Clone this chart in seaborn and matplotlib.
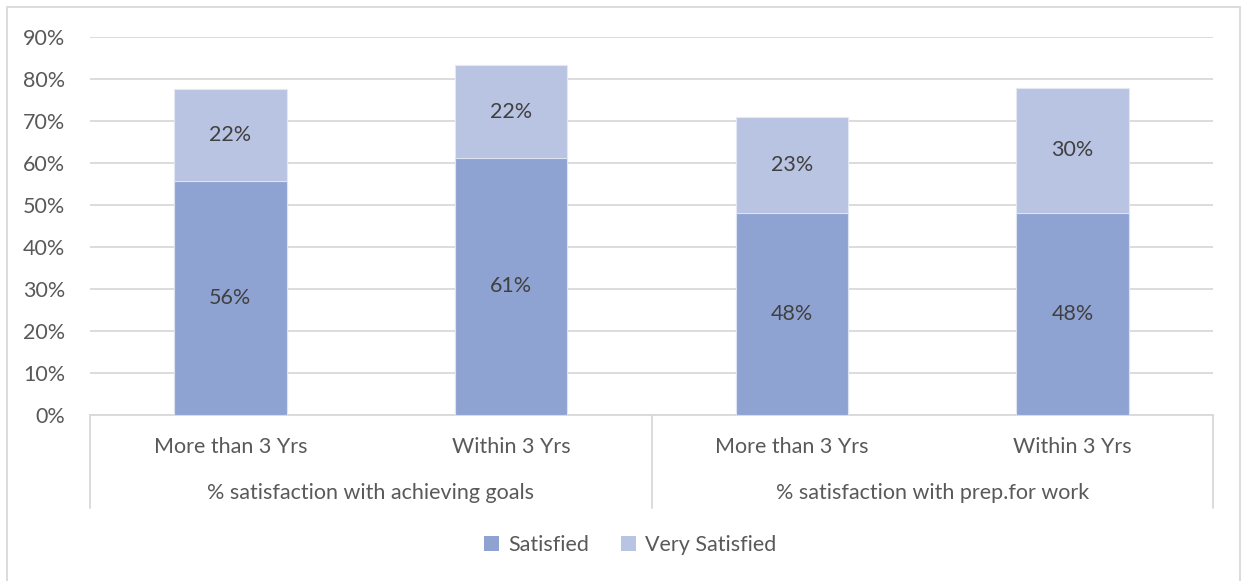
import matplotlib
matplotlib.use("Agg")
import matplotlib.pyplot as plt
from matplotlib.patches import Rectangle, Patch
from matplotlib.lines import Line2D
import seaborn as sns
import pandas as pd

# Survey results (percent of respondents)
periods = ["More than 3 Yrs", "Within 3 Yrs", "More than 3 Yrs", "Within 3 Yrs"]
groups = ["% satisfaction with achieving goals", "% satisfaction with prep.for work"]
satisfied = [55.7, 61.2, 48.1, 48.1]
very_satisfied = [21.9, 22.1, 22.9, 29.8]
y_ticks = [0, 10, 20, 30, 40, 50, 60, 70, 80, 90]

SAT_COLOR = "#8FA3D3"
VSAT_COLOR = "#B9C3E2"
TEXT_COLOR = "#595959"
LABEL_COLOR = "#404040"
GRID_COLOR = "#D9D9D9"
FS = 15.5

sns.set_theme(style="white")
plt.rcParams["font.family"] = ["Lato", "DejaVu Sans"]

W, H = 1244, 581
fig = plt.figure(figsize=(W / 100, H / 100), dpi=100)
ax = fig.add_axes([90 / W, 1 - 415 / H, (1213 - 90) / W, (415 - 37) / H])

slots = [f"c{i}" for i in range(len(periods))]
df = pd.DataFrame({
    "slot": slots,
    "satisfied": satisfied,
    "total": [s + v for s, v in zip(satisfied, very_satisfied)],
})

# Stacked bars: full height in the light colour, lower segment on top of it
sns.barplot(data=df, x="slot", y="total", order=slots, color=VSAT_COLOR,
            saturation=1, width=0.4, ax=ax, zorder=2, edgecolor="#E4E8F4", linewidth=0.8)
sns.barplot(data=df, x="slot", y="satisfied", order=slots, color=SAT_COLOR,
            saturation=1, width=0.4, ax=ax, zorder=3, edgecolor="#DDE3F1", linewidth=0.8)

for i, (s, v) in enumerate(zip(satisfied, very_satisfied)):
    ax.text(i, s / 2, f"{round(s)}%", ha="center", va="center",
            fontsize=FS, color=LABEL_COLOR, zorder=4)
    ax.text(i, s + v / 2, f"{round(v)}%", ha="center", va="center",
            fontsize=FS, color=LABEL_COLOR, zorder=4)

ax.set_xlim(-0.5, len(periods) - 0.5)
ax.set_ylim(0, 90)
ax.set_yticks(y_ticks)
ax.set_yticklabels([f"{t}%" for t in y_ticks], fontsize=FS, color=TEXT_COLOR)
ax.tick_params(axis="y", length=0, pad=18)
ax.yaxis.grid(True, color=GRID_COLOR, linewidth=1.3, zorder=0)
ax.set_axisbelow(True)
ax.set_xlabel("")
ax.set_ylabel("")

# Two-level category axis
ax.set_xticks(range(len(periods)))
ax.set_xticklabels(periods, fontsize=FS, color=TEXT_COLOR)
ax.tick_params(axis="x", length=0, pad=16)
for sp in ["top", "right", "left"]:
    ax.spines[sp].set_visible(False)
ax.spines["bottom"].set_color(GRID_COLOR)
ax.spines["bottom"].set_linewidth(1.3)

axis_h = 415 - 37
depth = (508 - 415) / axis_h
for xa in (0.0, 0.5, 1.0):
    ax.add_line(Line2D([xa, xa], [0, -depth], transform=ax.transAxes,
                       color=GRID_COLOR, linewidth=1.3, clip_on=False))
for gi, g in enumerate(groups):
    ax.text(0.25 + 0.5 * gi, -(493 - 415) / axis_h, g, transform=ax.transAxes,
            ha="center", va="center", fontsize=FS, color=TEXT_COLOR)

# Legend
handles = [Patch(facecolor=SAT_COLOR, edgecolor="none", label="Satisfied"),
           Patch(facecolor=VSAT_COLOR, edgecolor="none", label="Very Satisfied")]
fig.legend(handles=handles, loc="center", bbox_to_anchor=(630 / W, 1 - 545 / H),
           ncol=2, frameon=False, fontsize=FS, handlelength=0.7, handleheight=0.7,
           handletextpad=0.4, columnspacing=1.5, labelcolor=TEXT_COLOR)

# Chart border
fig.add_artist(Rectangle((7 / W, -0.01), (1240 - 7) / W, 1 - 7 / H + 0.01,
                         transform=fig.transFigure, fill=False,
                         edgecolor=GRID_COLOR, linewidth=1.3))

fig.savefig("out.png", dpi=100, facecolor="white")
